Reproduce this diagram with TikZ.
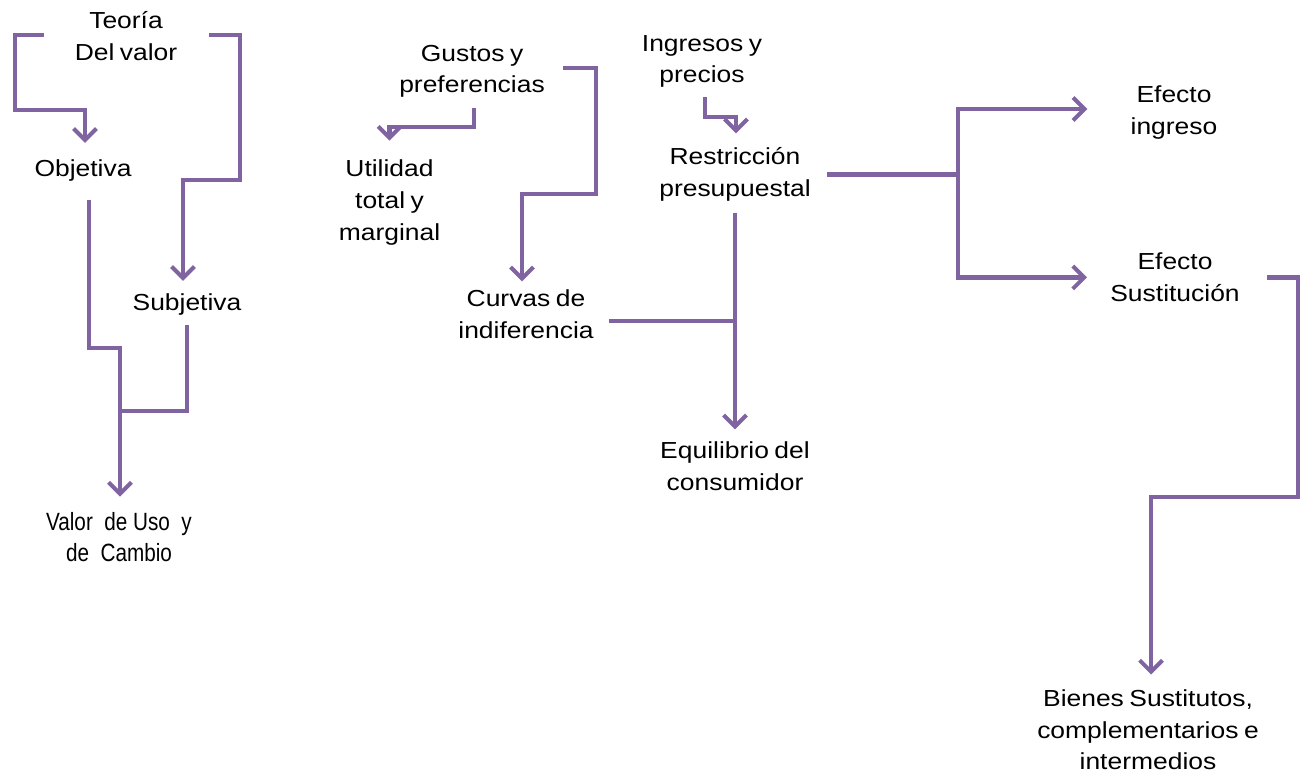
\documentclass[tikz,border=0pt]{standalone}
\usepackage{fontspec}
\setmainfont{Liberation Sans}[FakeStretch=1.14, WordSpace=0.75]
\newfontfamily\angosta{Liberation Sans}[FakeStretch=0.83]
\usetikzlibrary{arrows.meta, positioning, calc}
\definecolor{moradoLinea}{RGB}{128, 100, 162}

\begin{document}
\begin{tikzpicture}[x=0.02cm, y=-0.02cm,
        concepto/.style={inner sep=0pt, align=center, font=\fontsize{13.2}{18}\selectfont},
        linea/.style={line width=2.3pt, moradoLinea},
        flecha/.style={linea, -{Straight Barb[length=6.5pt, width=13pt]}}
    ]
    \useasboundingbox (0,0) rectangle (1302,776);

    % Teoria del valor
    \node[concepto] (teoria) at (126,36) {Teoría\\Del valor};
    \node[concepto] (objetiva) at (83,171) {Objetiva};
    \node[concepto] (subjetiva) at (187,305) {Subjetiva};
    \node[concepto, font=\angosta\fontsize{14.2}{18}\selectfont] (valor) at (119,537) {Valor~ de Uso~ y\\de~ Cambio};

    \draw[flecha] ($(teoria.west)+(-30,-1)$) -| (15,110) -| ($(objetiva.north)+(2,-17)$);
    \draw[flecha] ($(teoria.east)+(31,-1)$) -| (240,180) -| ($(subjetiva.north)+(-4,-13)$);
    \coordinate (juntaValor) at (120,411);
    \draw[flecha] ($(objetiva.south)+(6,18)$) |- (120,348) -- ($(valor.north)+(1,-15)$);
    \draw[linea] ($(subjetiva.south)+(0,9)$) |- (juntaValor);

    % Consumidor
    \node[concepto] (gustos) at (472,71.5) {Gustos y\\preferencias};
    \node[concepto] (utilidad) at (389.5,202.5) {Utilidad\\total y\\marginal};
    \node[concepto] (curvas) at (526,314) {Curvas de\\indiferencia};
    \node[concepto] (ingresos) at (702,61.5) {Ingresos y\\precios};
    \node[concepto] (restriccion) at (735,174.5) {Restricción\\presupuestal};
    \node[concepto] (equilibrio) at (735,466) {Equilibrio del\\consumidor};

    \draw[flecha] ($(gustos.south)+(2,10)$) |- (389.5,127) -- ($(utilidad.north)+(0,-19)$);
    \draw[flecha] ($(gustos.east)+(18,-3.5)$) -| (596,194) -| ($(curvas.north)+(-4,-8)$);
    \draw[flecha] ($(ingresos.south)+(3,9)$) |- (736,117) -- ($(restriccion.north)+(1,-14)$);
    \draw[flecha] ($(restriccion.south)+(0,11)$) -- ($(equilibrio.north)+(0,-12)$);
    \coordinate (cruceIni) at ($(curvas.east)+(15,7)$);
    \draw[linea] (cruceIni) -- (cruceIni -| restriccion.south);

    % Efectos
    \node[concepto] (ingreso) at (1174,112.5) {Efecto\\ingreso};
    \node[concepto] (sustitucion) at (1175,277.5) {Efecto\\Sustitución};
    \node[concepto] (bienes) at (1148,730) {Bienes Sustitutos,\\complementarios e\\intermedios};

    \coordinate (ramal) at ($(restriccion.east)+(147,0)$);
    \draw[linea] ($(restriccion.east)+(16,0)$) -- (ramal);
    \draw[flecha] (ramal) |- ($(ingreso.west)+(-43,-3.5)$);
    \draw[flecha] (ramal) |- ($(sustitucion.west)+(-23,0)$);
    \draw[flecha] ($(sustitucion.east)+(27,0)$) -| (1298,497) -| ($(bienes.north)+(3,-15)$);
\end{tikzpicture}
\end{document}
